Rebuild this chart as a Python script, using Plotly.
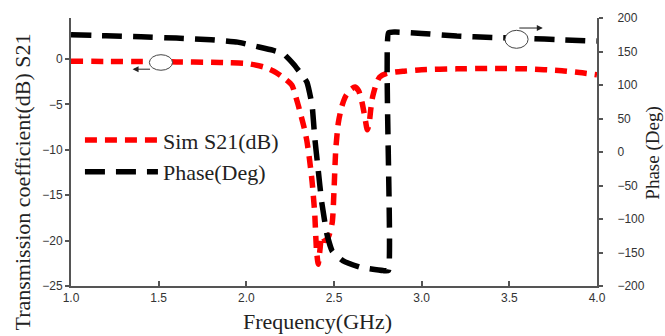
import plotly.graph_objects as go

# ---- data ----
s21_freq = [1.0, 1.2, 1.4, 1.6, 1.8, 1.9, 2.0, 2.1, 2.17, 2.22, 2.26, 2.29, 2.31, 2.33, 2.345,
            2.36, 2.375, 2.39, 2.40, 2.41, 2.42, 2.43, 2.45, 2.47, 2.49, 2.50, 2.51, 2.525,
            2.545, 2.57, 2.60, 2.62, 2.64, 2.66, 2.675, 2.69, 2.70, 2.71, 2.72, 2.74, 2.76,
            2.8, 2.9, 3.0, 3.2, 3.4, 3.6, 3.8, 3.9, 4.0]
s21_db = [-0.25, -0.28, -0.3, -0.33, -0.38, -0.42, -0.5, -0.9, -1.5, -2.2, -2.9, -4.7, -6.1,
          -7.6, -9.0, -11.0, -13.5, -17.0, -21.0, -22.6, -21.0, -19.5, -20.0, -19.5, -18.0,
          -14.5, -10.0, -7.0, -5.2, -4.0, -3.3, -3.1, -3.5, -4.8, -6.3, -7.8, -7.2, -5.5,
          -4.2, -2.8, -2.0, -1.6, -1.35, -1.2, -1.1, -1.05, -1.1, -1.3, -1.5, -1.75]

phase_freq = [1.0, 1.2, 1.4, 1.6, 1.8, 1.95, 2.05, 2.15, 2.21, 2.27, 2.32, 2.346, 2.375, 2.39,
              2.41, 2.43, 2.46, 2.49, 2.55, 2.65, 2.78, 2.81, 2.811, 2.85, 3.0, 3.2, 3.4,
              3.6, 3.8, 4.0]
phase_deg = [175, 173.5, 172, 170, 167.5, 164, 158, 152, 147, 131, 114, 104, 70, 22, -27,
             -75, -123, -148, -162, -172, -177, -177, 178, 179, 177, 173, 171, 169.5, 167.5,
             165.5]

x_ticks = [1.0, 1.5, 2.0, 2.5, 3.0, 3.5, 4.0]
y_left_ticks = [0, -5, -10, -15, -20, -25]
y_right_ticks = [200, 150, 100, 50, 0, -50, -100, -150, -200]

serif = "Liberation Serif"
sans = "Liberation Sans"

fig = go.Figure()
fig.add_trace(go.Scatter(
    x=s21_freq, y=s21_db, name="Sim S21(dB)", mode="lines", legendgroup="a",
    line=dict(color="#ff0000", width=5.5, dash="12px,8px", shape="spline", smoothing=0.6),
    yaxis="y"))
fig.add_trace(go.Scatter(
    x=phase_freq, y=phase_deg, name="Phase(Deg)", mode="lines", legendgroup="b",
    line=dict(color="#000000", width=5.5, dash="20px,11px", shape="spline", smoothing=0.4),
    yaxis="y2"))

axis_common = dict(showline=True, linecolor="#555555", linewidth=2, showgrid=False,
                   zeroline=False, tickcolor="#555555", tickwidth=1.5,
                   tickfont=dict(family=sans, size=12, color="#333333"))

fig.update_layout(
    width=665, height=336,
    margin=dict(l=71, r=68, t=11, b=50),
    paper_bgcolor="white", plot_bgcolor="white",
    showlegend=True,
    legend=dict(x=0.017, y=0.622, xanchor="left", yanchor="top", bgcolor="rgba(0,0,0,0)",
                font=dict(family=serif, size=22, color="#222222"),
                itemwidth=73, traceorder="grouped", tracegroupgap=0),
    xaxis=dict(range=[1, 4], tickvals=x_ticks, ticktext=[f"{v:.1f}" for v in x_ticks],
               ticks="inside", ticklen=5, **axis_common),
    yaxis=dict(range=[-25, 4.5], tickvals=y_left_ticks, ticks="outside", ticklen=4,
               **axis_common),
    yaxis2=dict(range=[-200, 200], tickvals=y_right_ticks, overlaying="y", side="right",
                ticks="outside", ticklen=4, ticklabelstandoff=12, **axis_common),
    shapes=[
        dict(type="circle", xref="paper", yref="paper", x0=0.149, x1=0.193, y0=0.805, y1=0.863,
             line=dict(color="#444444", width=1), fillcolor="white", layer="above"),
        dict(type="circle", xref="paper", yref="paper", x0=0.825, x1=0.869, y0=0.887, y1=0.954,
             line=dict(color="#444444", width=1), fillcolor="white", layer="above"),
    ],
    annotations=[
        dict(x=0.117, y=0.809, xref="paper", yref="paper", ax=19, ay=0, axref="pixel",
             ayref="pixel", text="", showarrow=True, arrowhead=2, arrowsize=1.2,
             arrowwidth=1, arrowcolor="#222222"),
        dict(x=0.897, y=0.9626, xref="paper", yref="paper", ax=-25, ay=0, axref="pixel",
             ayref="pixel", text="", showarrow=True, arrowhead=2, arrowsize=1.2,
             arrowwidth=1, arrowcolor="#222222"),
        dict(x=-0.0913, y=0.39, xref="paper", yref="paper", text="Transmission coefficient(dB) S21",
             textangle=-90, showarrow=False, font=dict(family=serif, size=22, color="#222222"),
             xanchor="center", yanchor="middle"),
        dict(x=1.1065, y=0.494, xref="paper", yref="paper", text="Phase (Deg)",
             textangle=-90, showarrow=False, font=dict(family=serif, size=19, color="#222222"),
             xanchor="center", yanchor="middle"),
        dict(x=0.468, y=-0.131, xref="paper", yref="paper", text="Frequency(GHz)",
             showarrow=False, font=dict(family=serif, size=22, color="#222222"),
             xanchor="center", yanchor="middle"),
    ],
)

fig.write_html("out.html")
